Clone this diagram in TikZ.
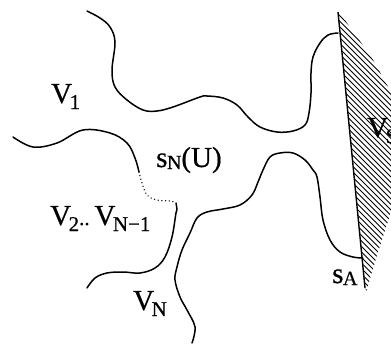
\documentclass[tikz,border=0pt]{standalone}
\usepackage{fontspec}
\setmainfont[FakeBold=0.6]{Liberation Serif}
\newcommand\vsub[1]{\kern-2.5pt\raisebox{-6pt}{\fontsize{21}{21}\selectfont #1}}
\newcommand\ssub[1]{\kern-0.5pt\raisebox{-2pt}{\fontsize{20}{20}\selectfont #1}}
\tikzset{
  bord/.style={line width=1.5pt, line cap=round, line join=round},
  dotbord/.style={line width=1.4pt, line cap=round, dash pattern=on 0.1pt off 3.6pt},
  wall/.style={line width=1.4pt},
  hatchline/.style={line width=0.95pt},
  lab/.style={inner sep=0pt, anchor=base west, font=\fontsize{29}{29}\selectfont}
}
\begin{document}
\begin{tikzpicture}[x=1pt,y=-1pt]
\useasboundingbox (0,0) rectangle (391,345);
% hatched region
\begin{scope}
\clip (338,12) -- (366,292) -- (378,252) -- (391,212) -- (391,92) -- (372,58) -- (342,16) -- cycle;
\foreach \c in {-100,-94.5,...,420} {
  \draw[hatchline] (320,\c-80) -- (400,\c);
}
\end{scope}
% wall
\coordinate (wt) at (338,12);
\coordinate (wb) at (365,288);
\draw[wall] (wt) -- (wb);
% top curve
\draw[bord] plot[smooth, tension=0.6] coordinates {(87,11) (100,18) (110,27) (115,42) (112,70) (115,87) (127,100) (143,110) (157,111) (173,107) (200,97) (207,96) (223,98) (237,105) (248,117) (260,127) (277,132) (293,131) (305,125) (309,113) (311,93) (311,73) (313,57) (320,43) (328,35) (338,33)};
% lower-right curve
\draw[bord] plot[smooth, tension=0.6] coordinates {(192,343) (195,327) (187,310) (180,297) (175,280) (177,267) (182,250) (190,233) (197,218) (207,212) (223,209) (240,205) (252,195) (258,182) (263,170) (270,157) (280,153) (293,153) (305,160) (313,170) (317,177) (320,197) (323,220) (330,240) (340,252) (353,257) (363,258)};
% left curve
\draw[bord] plot[smooth, tension=0.6] coordinates {(13,137) (33,147) (57,143) (83,130) (110,133) (127,143) (135,158) (139,172)};
\draw[dotbord] plot[smooth, tension=0.6] coordinates {(139,172) (142,183) (147,195) (157,200) (170,201) (174,202)};
\draw[bord] plot[smooth, tension=0.6] coordinates {(176,203) (177,210) (176,213) (172,237) (165,257) (155,268) (140,273) (123,272) (107,273) (95,278) (87,288)};
% labels
\node[lab] (v1) at (51,103) {V\vsub{1}};
\node[lab] (sn) at (156,167) {s\ssub{N}(U)};
\node[lab] (v2) at (50,225) {V\vsub{2}{\fontsize{21}{21}\selectfont..}\,V\vsub{N−1}};
\node[lab] (vn) at (133,310) {V\vsub{N}};
\node[lab] (sa) at (332,283) {s\ssub{A}};
\node[lab] (vs) at (367,137) {V\vsub{S}};
\end{tikzpicture}
\end{document}
